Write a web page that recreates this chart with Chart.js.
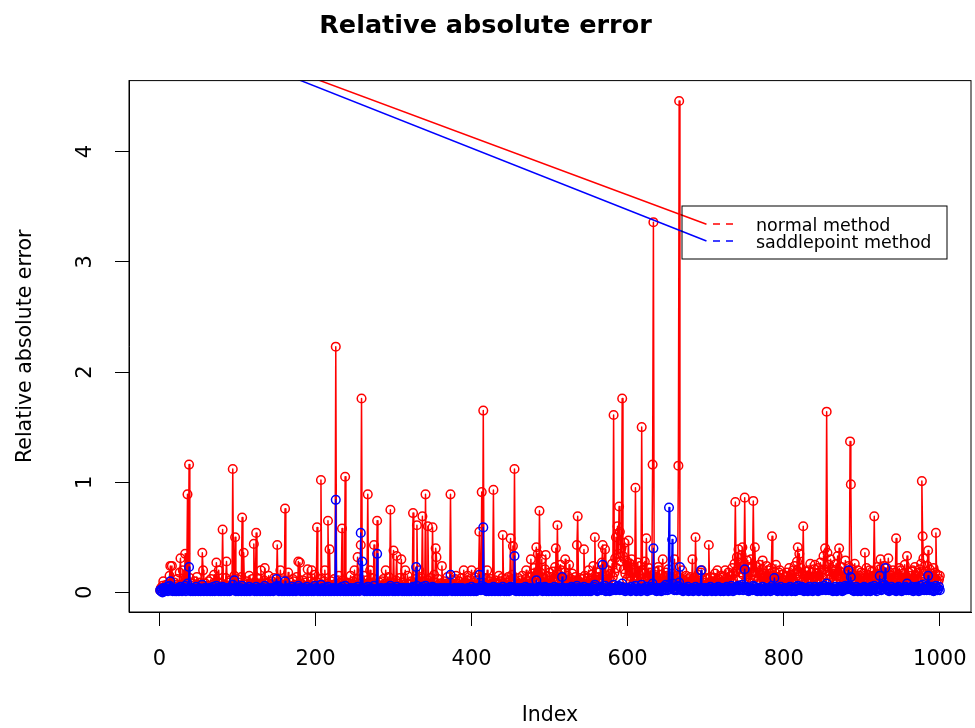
<!DOCTYPE html>
<html lang="en">
<head>
    <meta charset="UTF-8">
    <title>Relative absolute error</title>
    <style>
        body {
            margin: 0;
            background-color: #ffffff;
        }
    </style>
    <script src="https://cdn.jsdelivr.net/npm/chart.js"></script>
</head>
<body>
    <canvas id="errorChart" width="975" height="728"></canvas>

    <script>
        // values, one per index 1..1000
        const normalError = [
            0.02,0.04,0.01,0.06,0.10,0.03,0.05,0.02,0.07,0.03,0.04,0.08,0.15,0.24,0.05,0.24,0.06,0.02,0.09,0.04,
            0.03,0.07,0.12,0.02,0.05,0.18,0.31,0.04,0.06,0.20,0.03,0.09,0.35,0.05,0.11,0.89,0.04,1.16,0.13,0.03,
            0.06,0.02,0.08,0.04,0.10,0.03,0.05,0.14,0.02,0.07,0.04,0.09,0.03,0.06,0.36,0.20,0.05,0.02,0.08,0.04,
            0.03,0.06,0.10,0.02,0.05,0.12,0.04,0.07,0.03,0.16,0.05,0.02,0.27,0.06,0.04,0.20,0.09,0.03,0.05,0.08,
            0.57,0.04,0.07,0.02,0.13,0.28,0.05,0.03,0.09,0.04,0.11,0.06,0.02,1.12,0.08,0.15,0.50,0.03,0.06,0.12,
            0.04,0.09,0.02,0.06,0.14,0.68,0.05,0.36,0.03,0.07,0.04,0.10,0.02,0.06,0.15,0.03,0.08,0.05,0.12,0.04,
            0.44,0.06,0.09,0.54,0.03,0.07,0.12,0.02,0.05,0.20,0.04,0.08,0.03,0.11,0.22,0.05,0.02,0.09,0.06,0.15,
            0.03,0.07,0.04,0.10,0.02,0.06,0.13,0.03,0.05,0.08,0.43,0.04,0.09,0.02,0.20,0.06,0.03,0.11,0.05,0.07,
            0.76,0.04,0.08,0.03,0.18,0.05,0.02,0.09,0.06,0.04,0.12,0.10,0.03,0.07,0.05,0.14,0.02,0.28,0.06,0.27,
            0.04,0.08,0.03,0.11,0.05,0.02,0.09,0.06,0.13,0.21,0.03,0.07,0.04,0.10,0.20,0.05,0.02,0.08,0.16,0.04,
            0.06,0.59,0.03,0.09,0.05,0.12,1.02,0.04,0.07,0.02,0.10,0.20,0.05,0.03,0.08,0.65,0.06,0.39,0.04,0.10,
            0.03,0.07,0.05,0.12,0.02,2.23,0.08,0.04,0.06,0.15,0.03,0.09,0.05,0.58,0.11,0.02,0.07,1.05,0.04,0.09,
            0.05,0.03,0.08,0.02,0.15,0.06,0.04,0.10,0.03,0.20,0.07,0.05,0.12,0.32,0.04,0.08,0.02,0.43,1.76,0.09,
            0.06,0.15,0.03,0.07,0.05,0.11,0.89,0.04,0.09,0.20,0.02,0.06,0.13,0.03,0.43,0.08,0.05,0.02,0.65,0.07,
            0.04,0.09,0.03,0.06,0.10,0.02,0.12,0.05,0.08,0.20,0.03,0.07,0.04,0.14,0.06,0.75,0.05,0.09,0.03,0.38,
            0.06,0.04,0.11,0.33,0.05,0.08,0.02,0.13,0.06,0.30,0.04,0.09,0.03,0.07,0.20,0.05,0.02,0.15,0.08,0.04,
            0.07,0.03,0.10,0.05,0.72,0.04,0.08,0.12,0.06,0.61,0.03,0.09,0.20,0.05,0.14,0.07,0.69,0.04,0.10,0.06,
            0.89,0.05,0.11,0.60,0.04,0.08,0.13,0.03,0.07,0.59,0.05,0.16,0.09,0.40,0.32,0.06,0.12,0.03,0.08,0.05,
            0.04,0.24,0.07,0.03,0.10,0.05,0.08,0.02,0.14,0.06,0.04,0.09,0.89,0.05,0.11,0.03,0.07,0.04,0.12,0.15,
            0.05,0.08,0.03,0.10,0.06,0.02,0.13,0.04,0.07,0.20,0.05,0.09,0.03,0.11,0.15,0.06,0.04,0.12,0.07,0.20,
            0.05,0.09,0.03,0.14,0.06,0.04,0.11,0.07,0.18,0.55,0.08,0.05,0.91,0.12,1.65,0.09,0.04,0.13,0.06,0.20,
            0.07,0.03,0.10,0.05,0.12,0.04,0.08,0.93,0.06,0.11,0.03,0.09,0.05,0.07,0.15,0.04,0.10,0.06,0.13,0.52,
            0.08,0.05,0.12,0.03,0.09,0.06,0.14,0.04,0.11,0.49,0.07,0.16,0.42,0.09,1.12,0.05,0.10,0.03,0.08,0.13,
            0.06,0.04,0.11,0.07,0.15,0.05,0.09,0.03,0.12,0.20,0.06,0.10,0.04,0.14,0.08,0.30,0.05,0.17,0.07,0.22,
            0.09,0.15,0.41,0.12,0.35,0.08,0.74,0.18,0.10,0.30,0.06,0.13,0.09,0.21,0.34,0.07,0.15,0.05,0.11,0.18,
            0.08,0.14,0.06,0.19,0.10,0.05,0.23,0.40,0.12,0.61,0.07,0.16,0.09,0.25,0.20,0.06,0.13,0.08,0.18,0.30,
            0.10,0.06,0.15,0.08,0.25,0.05,0.12,0.09,0.17,0.07,0.11,0.04,0.14,0.08,0.43,0.69,0.10,0.06,0.13,0.09,
            0.05,0.12,0.08,0.39,0.15,0.06,0.10,0.04,0.13,0.20,0.07,0.11,0.05,0.16,0.09,0.24,0.12,0.50,0.08,0.14,
            0.06,0.11,0.18,0.08,0.20,0.13,0.27,0.43,0.10,0.22,0.39,0.07,0.15,0.09,0.20,0.12,0.05,0.17,0.10,0.26,
            0.14,1.61,0.18,0.31,0.50,0.22,0.60,0.35,0.78,0.55,0.28,0.40,1.76,0.33,0.21,0.45,0.17,0.29,0.12,0.24,
            0.47,0.15,0.26,0.10,0.30,0.18,0.08,0.21,0.13,0.95,0.19,0.11,0.27,0.07,0.16,0.24,0.12,1.50,0.20,0.09,
            0.17,0.28,0.11,0.49,0.14,0.08,0.22,0.13,0.18,0.06,0.15,1.16,3.36,0.12,0.19,0.07,0.14,0.10,0.23,0.20,
            0.09,0.16,0.06,0.12,0.30,0.08,0.14,0.05,0.18,0.15,0.09,0.21,0.11,0.06,0.13,0.08,0.17,0.10,0.05,0.30,
            0.12,0.07,0.15,0.09,1.15,4.46,0.13,0.06,0.10,0.20,0.05,0.11,0.08,0.04,0.15,0.07,0.12,0.05,0.09,0.14,
            0.06,0.11,0.30,0.08,0.13,0.05,0.50,0.10,0.07,0.16,0.04,0.12,0.08,0.18,0.20,0.06,0.11,0.04,0.09,0.13,
            0.07,0.12,0.05,0.43,0.09,0.14,0.06,0.10,0.04,0.13,0.08,0.17,0.05,0.11,0.20,0.07,0.12,0.04,0.09,0.15,
            0.06,0.10,0.14,0.05,0.20,0.09,0.13,0.07,0.18,0.11,0.06,0.15,0.09,0.22,0.12,0.17,0.26,0.82,0.19,0.32,
            0.21,0.39,0.14,0.27,0.18,0.34,0.41,0.16,0.25,0.86,0.20,0.12,0.29,0.15,0.09,0.22,0.13,0.30,0.18,0.24,
            0.83,0.19,0.41,0.15,0.23,0.10,0.18,0.12,0.25,0.08,0.16,0.21,0.29,0.11,0.17,0.07,0.14,0.24,0.10,0.20,
            0.13,0.08,0.17,0.22,0.51,0.15,0.09,0.19,0.12,0.25,0.07,0.14,0.10,0.18,0.20,0.08,0.13,0.16,0.06,0.11,
            0.09,0.14,0.06,0.18,0.15,0.10,0.22,0.07,0.13,0.16,0.09,0.20,0.11,0.24,0.08,0.17,0.28,0.41,0.19,0.35,
            0.14,0.22,0.09,0.17,0.60,0.12,0.07,0.19,0.11,0.15,0.08,0.20,0.13,0.26,0.10,0.18,0.06,0.14,0.21,0.25,
            0.11,0.17,0.08,0.22,0.15,0.12,0.27,0.09,0.18,0.13,0.33,0.21,0.40,0.16,1.64,0.36,0.19,0.25,0.12,0.30,
            0.14,0.21,0.09,0.17,0.20,0.11,0.26,0.08,0.33,0.15,0.40,0.19,0.10,0.23,0.13,0.07,0.18,0.12,0.29,0.16,
            0.10,0.19,0.24,0.13,1.37,0.98,0.21,0.09,0.16,0.12,0.26,0.08,0.14,0.11,0.20,0.07,0.15,0.10,0.18,0.06,
            0.12,0.17,0.08,0.36,0.14,0.22,0.09,0.16,0.11,0.20,0.07,0.13,0.19,0.10,0.15,0.69,0.12,0.08,0.17,0.23,
            0.11,0.16,0.21,0.30,0.13,0.08,0.19,0.24,0.10,0.17,0.14,0.22,0.09,0.31,0.12,0.18,0.07,0.15,0.11,0.20,
            0.09,0.14,0.18,0.49,0.12,0.08,0.16,0.22,0.10,0.20,0.13,0.07,0.17,0.11,0.25,0.09,0.14,0.33,0.12,0.18,
            0.08,0.15,0.11,0.19,0.20,0.09,0.13,0.23,0.07,0.15,0.12,0.18,0.10,0.21,0.14,0.26,1.01,0.51,0.31,0.17,
            0.12,0.19,0.09,0.24,0.38,0.14,0.21,0.10,0.17,0.15,0.08,0.22,0.13,0.18,0.54,0.11,0.16,0.09,0.12,0.15
        ];

        const saddleError = [
            0.02,0.01,0.03,0.00,0.04,0.02,0.01,0.03,0.02,0.05,0.01,0.03,0.06,0.10,0.02,0.04,0.01,0.03,0.02,0.01,
            0.03,0.01,0.02,0.04,0.01,0.03,0.05,0.02,0.01,0.03,0.02,0.04,0.06,0.01,0.03,0.08,0.02,0.23,0.03,0.01,
            0.02,0.04,0.01,0.03,0.02,0.01,0.05,0.02,0.03,0.01,0.04,0.02,0.01,0.03,0.07,0.02,0.01,0.04,0.02,0.03,
            0.01,0.03,0.02,0.04,0.01,0.02,0.03,0.01,0.05,0.02,0.01,0.03,0.06,0.02,0.04,0.01,0.02,0.03,0.01,0.04,
            0.05,0.02,0.01,0.03,0.02,0.04,0.01,0.03,0.02,0.01,0.04,0.02,0.03,0.07,0.02,0.11,0.04,0.01,0.03,0.02,
            0.01,0.03,0.02,0.04,0.01,0.06,0.02,0.03,0.01,0.02,0.04,0.01,0.03,0.02,0.05,0.01,0.03,0.02,0.04,0.02,
            0.03,0.01,0.02,0.05,0.01,0.03,0.02,0.04,0.01,0.02,0.03,0.01,0.04,0.02,0.06,0.01,0.03,0.02,0.01,0.04,
            0.02,0.01,0.03,0.02,0.04,0.01,0.02,0.03,0.05,0.12,0.06,0.02,0.01,0.03,0.02,0.04,0.01,0.02,0.03,0.01,
            0.10,0.03,0.02,0.01,0.04,0.02,0.01,0.03,0.02,0.05,0.01,0.03,0.02,0.04,0.01,0.02,0.03,0.06,0.02,0.04,
            0.01,0.03,0.02,0.01,0.04,0.02,0.03,0.01,0.05,0.02,0.01,0.03,0.02,0.04,0.01,0.02,0.03,0.01,0.06,0.02,
            0.04,0.03,0.01,0.02,0.03,0.01,0.07,0.02,0.04,0.01,0.03,0.02,0.01,0.04,0.02,0.05,0.01,0.03,0.02,0.01,
            0.03,0.02,0.04,0.01,0.03,0.84,0.02,0.01,0.03,0.02,0.04,0.01,0.02,0.05,0.03,0.01,0.02,0.06,0.01,0.03,
            0.02,0.01,0.03,0.02,0.04,0.01,0.02,0.03,0.01,0.04,0.02,0.01,0.03,0.05,0.02,0.01,0.03,0.54,0.04,0.28,
            0.03,0.02,0.01,0.04,0.02,0.01,0.05,0.03,0.02,0.01,0.04,0.02,0.03,0.01,0.06,0.02,0.01,0.03,0.35,0.02,
            0.01,0.03,0.02,0.04,0.01,0.02,0.03,0.01,0.02,0.04,0.01,0.03,0.02,0.01,0.04,0.06,0.02,0.03,0.01,0.04,
            0.02,0.01,0.03,0.05,0.02,0.01,0.03,0.02,0.04,0.03,0.01,0.02,0.04,0.01,0.03,0.02,0.01,0.04,0.02,0.01,
            0.03,0.02,0.01,0.04,0.05,0.02,0.03,0.01,0.23,0.06,0.02,0.01,0.03,0.02,0.04,0.01,0.05,0.02,0.03,0.01,
            0.06,0.02,0.03,0.04,0.01,0.02,0.03,0.01,0.04,0.05,0.02,0.03,0.01,0.04,0.02,0.01,0.03,0.02,0.01,0.04,
            0.02,0.03,0.01,0.02,0.04,0.01,0.03,0.02,0.01,0.04,0.02,0.03,0.16,0.02,0.01,0.03,0.02,0.04,0.01,0.03,
            0.02,0.01,0.04,0.02,0.03,0.01,0.02,0.04,0.01,0.03,0.02,0.01,0.03,0.02,0.04,0.01,0.02,0.03,0.01,0.05,
            0.02,0.03,0.01,0.04,0.02,0.01,0.03,0.02,0.04,0.16,0.03,0.02,0.06,0.04,0.59,0.05,0.02,0.03,0.01,0.04,
            0.02,0.01,0.03,0.02,0.04,0.01,0.03,0.05,0.02,0.01,0.04,0.02,0.03,0.01,0.02,0.04,0.01,0.03,0.02,0.05,
            0.03,0.01,0.02,0.04,0.01,0.03,0.02,0.01,0.04,0.05,0.02,0.03,0.04,0.02,0.33,0.03,0.01,0.02,0.04,0.02,
            0.01,0.03,0.02,0.04,0.01,0.02,0.03,0.01,0.05,0.02,0.04,0.01,0.03,0.02,0.01,0.04,0.02,0.03,0.01,0.02,
            0.03,0.02,0.11,0.01,0.04,0.02,0.05,0.03,0.02,0.04,0.01,0.03,0.02,0.05,0.04,0.01,0.03,0.02,0.01,0.04,
            0.02,0.04,0.01,0.03,0.02,0.05,0.01,0.03,0.04,0.02,0.01,0.03,0.02,0.04,0.01,0.14,0.03,0.02,0.04,0.01,
            0.03,0.02,0.01,0.04,0.02,0.03,0.01,0.05,0.02,0.04,0.01,0.03,0.02,0.01,0.06,0.04,0.02,0.03,0.01,0.02,
            0.04,0.01,0.03,0.05,0.02,0.01,0.03,0.02,0.04,0.01,0.03,0.02,0.01,0.04,0.02,0.03,0.05,0.07,0.02,0.03,
            0.01,0.03,0.02,0.04,0.03,0.02,0.05,0.25,0.04,0.02,0.06,0.01,0.03,0.02,0.04,0.03,0.01,0.02,0.04,0.03,
            0.02,0.07,0.03,0.04,0.02,0.05,0.03,0.06,0.04,0.02,0.03,0.05,0.08,0.02,0.04,0.03,0.01,0.04,0.02,0.03,
            0.04,0.02,0.03,0.01,0.05,0.02,0.04,0.03,0.02,0.06,0.01,0.03,0.02,0.04,0.02,0.03,0.01,0.07,0.03,0.02,
            0.04,0.02,0.03,0.05,0.01,0.03,0.02,0.04,0.02,0.03,0.05,0.08,0.40,0.03,0.02,0.04,0.01,0.03,0.02,0.04,
            0.02,0.03,0.01,0.04,0.02,0.05,0.03,0.02,0.07,0.04,0.02,0.06,0.77,0.03,0.05,0.04,0.48,0.08,0.03,0.02,
            0.04,0.03,0.02,0.05,0.06,0.09,0.23,0.03,0.02,0.04,0.01,0.03,0.02,0.04,0.03,0.02,0.05,0.01,0.03,0.02,
            0.03,0.02,0.04,0.01,0.03,0.02,0.05,0.03,0.02,0.04,0.01,0.03,0.02,0.20,0.04,0.02,0.03,0.01,0.04,0.02,
            0.03,0.01,0.04,0.02,0.03,0.05,0.02,0.01,0.03,0.04,0.02,0.03,0.01,0.04,0.02,0.05,0.03,0.02,0.01,0.04,
            0.02,0.03,0.01,0.04,0.02,0.03,0.05,0.02,0.01,0.03,0.04,0.02,0.06,0.03,0.01,0.04,0.02,0.03,0.05,0.04,
            0.03,0.06,0.02,0.04,0.03,0.05,0.07,0.02,0.04,0.21,0.03,0.05,0.02,0.04,0.01,0.03,0.02,0.04,0.03,0.02,
            0.06,0.03,0.05,0.02,0.04,0.01,0.03,0.02,0.04,0.03,0.01,0.02,0.05,0.03,0.02,0.04,0.01,0.03,0.02,0.04,
            0.02,0.03,0.01,0.04,0.06,0.02,0.03,0.13,0.04,0.02,0.03,0.01,0.04,0.02,0.03,0.05,0.02,0.01,0.03,0.02,
            0.04,0.02,0.03,0.01,0.04,0.02,0.03,0.05,0.02,0.01,0.03,0.04,0.02,0.03,0.01,0.05,0.02,0.06,0.03,0.04,
            0.02,0.03,0.05,0.02,0.04,0.01,0.03,0.02,0.04,0.03,0.01,0.02,0.05,0.03,0.02,0.04,0.01,0.03,0.02,0.05,
            0.03,0.02,0.04,0.01,0.03,0.02,0.05,0.03,0.02,0.04,0.03,0.06,0.04,0.02,0.08,0.05,0.03,0.02,0.04,0.03,
            0.02,0.04,0.01,0.03,0.02,0.05,0.03,0.01,0.04,0.02,0.03,0.05,0.02,0.04,0.01,0.03,0.02,0.04,0.06,0.03,
            0.05,0.03,0.20,0.04,0.06,0.14,0.03,0.02,0.04,0.01,0.03,0.02,0.05,0.03,0.01,0.04,0.02,0.03,0.01,0.04,
            0.02,0.03,0.05,0.02,0.04,0.01,0.03,0.02,0.04,0.03,0.01,0.05,0.02,0.03,0.04,0.06,0.02,0.03,0.01,0.04,
            0.03,0.05,0.15,0.04,0.02,0.03,0.06,0.04,0.07,0.22,0.05,0.03,0.02,0.04,0.01,0.03,0.02,0.05,0.03,0.02,
            0.04,0.02,0.03,0.01,0.04,0.02,0.05,0.03,0.02,0.04,0.01,0.03,0.02,0.04,0.03,0.05,0.02,0.08,0.03,0.02,
            0.04,0.03,0.02,0.05,0.03,0.01,0.04,0.02,0.03,0.05,0.02,0.04,0.01,0.03,0.06,0.02,0.04,0.07,0.03,0.02,
            0.03,0.05,0.02,0.06,0.15,0.04,0.02,0.03,0.05,0.02,0.04,0.01,0.03,0.02,0.06,0.04,0.02,0.03,0.05,0.02
        ];

        // the two stray legend lines, end points
        const normalKeyX = [-39, 701];
        const normalKeyY = [5.29, 3.341];
        const saddleKeyX = [-39, 701];
        const saddleKeyY = [5.262, 3.189];

        const xTicks = [0, 200, 400, 600, 800, 1000];
        const yTicks = [0, 1, 2, 3, 4];
        const legendLabels = ['normal method', 'saddlepoint method'];
        const legendColors = ['#ff0000', '#0000ff'];

        const FONT = 'DejaVu Sans';

        const toPoints = (xs, ys) => ys.map((y, i) => ({ x: xs[i], y: y }));
        const indices = normalError.map((_, i) => i + 1);

        // box around the plot region, like R's box()
        const framePlugin = {
            id: 'frame',
            afterDraw(chart) {
                const { ctx, chartArea: a } = chart;
                ctx.save();
                ctx.strokeStyle = '#000';
                ctx.lineWidth = 1;
                ctx.strokeRect(a.left, a.top, a.right - a.left, a.bottom - a.top);
                ctx.restore();
            }
        };

        // y tick labels turned on their side (R default las=0)
        const yLabelPlugin = {
            id: 'yLabels',
            afterDraw(chart) {
                const { ctx } = chart;
                const y = chart.scales.y;
                ctx.save();
                ctx.fillStyle = '#000';
                ctx.font = '21px "' + FONT + '"';
                ctx.textAlign = 'center';
                ctx.textBaseline = 'alphabetic';
                yTicks.forEach(v => {
                    ctx.save();
                    ctx.translate(91, y.getPixelForValue(v));
                    ctx.rotate(-Math.PI / 2);
                    ctx.fillText(String(v), 0, 0);
                    ctx.restore();
                });
                ctx.restore();
            }
        };

        // legend box drawn like R's legend(), no fill
        const legendPlugin = {
            id: 'boxLegend',
            afterDraw(chart) {
                const { ctx } = chart;
                const left = 682, top = 206, w = 265, h = 53;
                ctx.save();
                ctx.strokeStyle = '#000';
                ctx.lineWidth = 1;
                ctx.strokeRect(left, top, w, h);
                ctx.font = '17.5px "' + FONT + '"';
                ctx.textBaseline = 'middle';
                legendLabels.forEach((label, i) => {
                    const yy = top + 18 + i * 17;
                    ctx.strokeStyle = legendColors[i];
                    ctx.lineWidth = 1.5;
                    ctx.setLineDash([7, 6]);
                    ctx.beginPath();
                    ctx.moveTo(713, yy);
                    ctx.lineTo(734, yy);
                    ctx.stroke();
                    ctx.setLineDash([]);
                    ctx.fillStyle = '#000';
                    ctx.fillText(label, 756, yy + 2);
                });
                ctx.restore();
            }
        };

        const pointStyle = color => ({
            borderColor: color,
            borderWidth: 1.5,
            borderJoinStyle: 'round',
            pointRadius: 4.3,
            pointBorderWidth: 1.5,
            pointBorderColor: color,
            pointBackgroundColor: 'rgba(0,0,0,0)',
            pointHoverRadius: 4.3,
            tension: 0,
            fill: false
        });

        new Chart(document.getElementById('errorChart'), {
            type: 'line',
            data: {
                datasets: [
                    Object.assign({
                        label: 'normal method',
                        data: toPoints(indices, normalError),
                        order: 3
                    }, pointStyle('#ff0000')),
                    Object.assign({
                        label: 'saddlepoint method',
                        data: toPoints(indices, saddleError),
                        order: 2
                    }, pointStyle('#0000ff')),
                    {
                        label: 'normal key',
                        data: toPoints(normalKeyX, normalKeyY),
                        borderColor: '#ff0000',
                        borderWidth: 1.5,
                        pointRadius: 0,
                        order: 1
                    },
                    {
                        label: 'saddle key',
                        data: toPoints(saddleKeyX, saddleKeyY),
                        borderColor: '#0000ff',
                        borderWidth: 1.5,
                        pointRadius: 0,
                        order: 0
                    }
                ]
            },
            options: {
                responsive: false,
                animation: false,
                layout: {
                    autoPadding: false,
                    padding: { left: 0, right: 4, top: 0, bottom: 0 }
                },
                plugins: {
                    legend: { display: false },
                    tooltip: { enabled: false },
                    title: {
                        display: true,
                        text: 'Relative absolute error',
                        color: '#000',
                        font: { family: FONT, size: 25.5, weight: 'bold' },
                        padding: { top: 11, bottom: 39 }
                    }
                },
                scales: {
                    x: {
                        type: 'linear',
                        min: -38.96,
                        max: 1039.96,
                        afterBuildTicks: s => { s.ticks = xTicks.map(v => ({ value: v })); },
                        afterFit: s => {
                            s.height = 116;
                            // labels fit inside the frame, no extra side padding
                            s.paddingLeft = 0;
                            s.paddingRight = 0;
                        },
                        ticks: {
                            color: '#000',
                            padding: 21,
                            maxRotation: 0,
                            font: { family: FONT, size: 21 },
                            callback: v => String(v)
                        },
                        grid: {
                            drawOnChartArea: false,
                            drawTicks: true,
                            tickLength: 14,
                            color: '#000'
                        },
                        border: { display: true, color: '#000' },
                        title: {
                            display: true,
                            text: 'Index',
                            color: '#000',
                            font: { family: FONT, size: 20.5 },
                            padding: { top: 0, bottom: 0 }
                        }
                    },
                    y: {
                        type: 'linear',
                        min: -0.178,
                        max: 4.645,
                        afterBuildTicks: s => { s.ticks = yTicks.map(v => ({ value: v })); },
                        afterFit: s => { s.width = 129; },
                        ticks: { display: false },
                        grid: {
                            drawOnChartArea: false,
                            drawTicks: true,
                            tickLength: 14,
                            color: '#000'
                        },
                        border: { display: true, color: '#000' },
                        title: {
                            display: true,
                            text: 'Relative absolute error',
                            color: '#000',
                            font: { family: FONT, size: 20.5 },
                            padding: { top: 13, bottom: 0 }
                        }
                    }
                }
            },
            plugins: [framePlugin, yLabelPlugin, legendPlugin]
        });
    </script>
</body>
</html>
